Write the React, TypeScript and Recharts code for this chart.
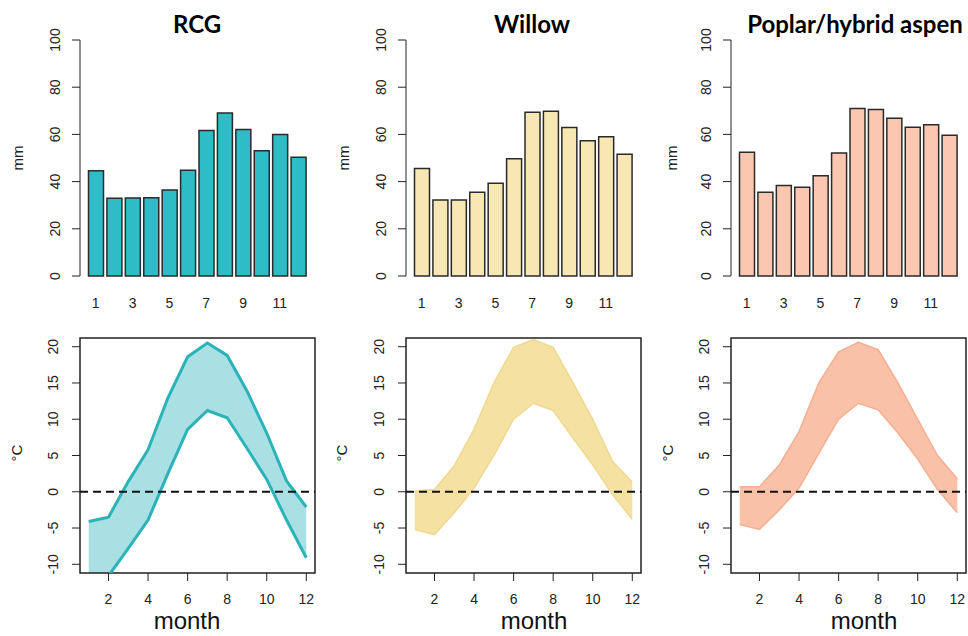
import React from 'react';
import {
  BarChart,
  Bar,
  ComposedChart,
  Area,
  Line,
  XAxis,
  YAxis,
  ReferenceLine,
  ReferenceArea,
} from 'recharts';

// monthly values
const months = [1, 2, 3, 4, 5, 6, 7, 8, 9, 10, 11, 12];

const rcgPrecip = [44.6, 32.9, 33.0, 33.2, 36.4, 44.8, 61.7, 69.1, 62.1, 53.1, 60.0, 50.3];
const willowPrecip = [45.5, 32.2, 32.2, 35.5, 39.3, 49.7, 69.4, 69.8, 62.9, 57.3, 59.0, 51.6];
const poplarPrecip = [52.4, 35.5, 38.4, 37.6, 42.5, 52.1, 71.0, 70.6, 66.8, 63.0, 64.1, 59.6];

const rcgTmax = [-4.1, -3.5, 1.4, 5.8, 12.9, 18.6, 20.5, 18.8, 13.9, 8.1, 1.5, -2.1];
const rcgTmin = [-12.5, -11.6, -7.8, -3.9, 2.5, 8.6, 11.2, 10.2, 6.0, 1.7, -3.9, -9.1];
const willowTmax = [0.1, 0.3, 3.6, 8.6, 15.0, 19.9, 21.0, 19.9, 15.0, 10.0, 4.2, 1.3];
const willowTmin = [-5.2, -5.9, -2.9, 0.5, 5.0, 10.0, 12.2, 11.2, 7.4, 3.7, -0.4, -3.8];
const poplarTmax = [0.7, 0.7, 3.7, 8.3, 15.0, 19.3, 20.6, 19.6, 15.0, 10.0, 5.0, 1.8];
const poplarTmin = [-4.5, -5.2, -2.5, 0.5, 5.3, 10.0, 12.2, 11.3, 8.1, 4.5, 0.3, -2.9];

const mmTicks = [0, 20, 40, 60, 80, 100];
const tempTicks = [-10, -5, 0, 5, 10, 15, 20];
const monthTicks = [2, 4, 6, 8, 10, 12];

const font = '"Liberation Sans", Arial, sans-serif';

const RotTick = (props: any) => {
  const { x, y, payload, off } = props;
  const bx = x - off;
  return (
    <text
      x={bx}
      y={y}
      transform={`rotate(-90 ${bx} ${y})`}
      textAnchor="middle"
      fontSize={14}
      fill="#222"
      fontFamily={font}
    >
      {payload.value}
    </text>
  );
};

function PrecipChart({ left, width, values, color }: { left: number; width: number; values: number[]; color: string }) {
  const data = months.map((m, i) => ({ month: m, mm: values[i] }));
  return (
    <div style={{ position: 'absolute', left, top: 0 }}>
      <BarChart width={width} height={318} data={data} margin={{ top: 40, right: width - 80 - 235, left: 0, bottom: 0 }}>
        <XAxis
          dataKey="month"
          interval={1}
          axisLine={false}
          tickLine={false}
          tickSize={0}
          tickMargin={22}
          height={42}
          padding={{ left: 6.5, right: 7.5 }}
          tick={{ fontSize: 14, fill: '#222', fontFamily: font }}
        />
        <YAxis
          type="number"
          domain={[0, 100]}
          ticks={mmTicks}
          width={80}
          stroke="#222"
          tickSize={8}
          tickMargin={0}
          tick={(p: any) => <RotTick {...p} off={12} />}
        />
        <Bar dataKey="mm" fill={color} stroke="#2a2a2a" strokeWidth={1.5} barSize={15} isAnimationActive={false} />
      </BarChart>
    </div>
  );
}

function TempChart({
  left,
  width,
  tmin,
  tmax,
  fill,
  line,
  lineWidth,
}: {
  left: number;
  width: number;
  tmin: number[];
  tmax: number[];
  fill: string;
  line: string;
  lineWidth: number;
}) {
  const data = months.map((m, i) => ({ month: m, lo: tmin[i], hi: tmax[i], range: [tmin[i], tmax[i]] }));
  return (
    <div style={{ position: 'absolute', left, top: 322 }}>
      <ComposedChart width={width} height={314} data={data} margin={{ top: 16, right: width - 80 - 235, left: 0, bottom: 0 }}>
        <XAxis
          dataKey="month"
          type="number"
          domain={[0.56, 12.44]}
          ticks={monthTicks}
          allowDataOverflow
          axisLine={false}
          stroke="#222"
          tickSize={8}
          tickMargin={13}
          height={63}
          tick={{ fontSize: 14, fill: '#222', fontFamily: font }}
        />
        <YAxis
          type="number"
          domain={[-11.2, 21.2]}
          ticks={tempTicks}
          allowDataOverflow
          axisLine={false}
          width={80}
          stroke="#222"
          tickSize={8}
          tickMargin={0}
          tick={(p: any) => <RotTick {...p} off={14} />}
        />
        <Area
          dataKey="range"
          type="linear"
          fill={fill}
          fillOpacity={1}
          stroke="none"
          isAnimationActive={false}
        />
        <Line dataKey="hi" type="linear" stroke={line} strokeWidth={lineWidth} dot={false} isAnimationActive={false} />
        <Line dataKey="lo" type="linear" stroke={line} strokeWidth={lineWidth} dot={false} isAnimationActive={false} />
        <ReferenceLine y={0} stroke="#111" strokeWidth={2} strokeDasharray="8 5" />
        <ReferenceArea x1={0.56} x2={12.44} y1={-11.2} y2={21.2} fill="none" stroke="#222" strokeWidth={1.5} />
      </ComposedChart>
    </div>
  );
}

export default function App() {
  const titleStyle = { fontFamily: 'Lato, "Open Sans", sans-serif', fontWeight: 700, fontSize: 24, fill: '#000' };
  const axTitle = { fontFamily: font, fontSize: 15, fill: '#222' };
  const monthStyle = { fontFamily: font, fontSize: 24, fill: '#111' };
  return (
    <div style={{ position: 'absolute', left: 0, top: 0, width: 968, height: 636, overflow: 'hidden', background: '#fff' }}>
      <PrecipChart left={0} width={322} values={rcgPrecip} color="#2EBCC6" />
      <PrecipChart left={326} width={322} values={willowPrecip} color="#F6E7B3" />
      <PrecipChart left={651} width={317} values={poplarPrecip} color="#FCC7B0" />

      <TempChart left={0} width={322} tmin={rcgTmin} tmax={rcgTmax} fill="#A9E0E3" line="#2BB3B8" lineWidth={3} />
      <TempChart left={326} width={322} tmin={willowTmin} tmax={willowTmax} fill="#F5E2A2" line="#EFD88F" lineWidth={1.5} />
      <TempChart left={651} width={317} tmin={poplarTmin} tmax={poplarTmax} fill="#F9C2A8" line="#F4AE92" lineWidth={1.5} />

      <svg width={968} height={636} style={{ position: 'absolute', left: 0, top: 0, pointerEvents: 'none' }}>
        <text x={197} y={33} textAnchor="middle" style={titleStyle}>RCG</text>
        <text x={532} y={33} textAnchor="middle" style={titleStyle}>Willow</text>
        <text x={855} y={33} textAnchor="middle" style={titleStyle}>Poplar/hybrid aspen</text>

        <text x={23} y={158} transform="rotate(-90 23 158)" textAnchor="middle" style={axTitle}>mm</text>
        <text x={349} y={158} transform="rotate(-90 349 158)" textAnchor="middle" style={axTitle}>mm</text>
        <text x={677} y={158} transform="rotate(-90 677 158)" textAnchor="middle" style={axTitle}>mm</text>

        <text x={22} y={453} transform="rotate(-90 22 453)" textAnchor="middle" style={axTitle}>°C</text>
        <text x={347} y={453} transform="rotate(-90 347 453)" textAnchor="middle" style={axTitle}>°C</text>
        <text x={673} y={453} transform="rotate(-90 673 453)" textAnchor="middle" style={axTitle}>°C</text>

        <text x={187} y={629} textAnchor="middle" style={monthStyle}>month</text>
        <text x={534} y={629} textAnchor="middle" style={monthStyle}>month</text>
        <text x={864} y={629} textAnchor="middle" style={monthStyle}>month</text>
      </svg>
    </div>
  );
}
